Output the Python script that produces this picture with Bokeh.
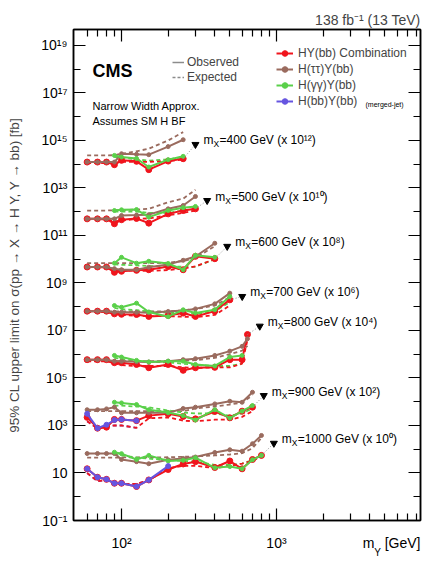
from bokeh.plotting import figure
from bokeh.models import (Range1d, FixedTicker, LogAxis, Label, Legend, LegendItem,
                          ColumnDataSource)
from bokeh.core.properties import value
from bokeh.embed import file_html
from bokeh.resources import INLINE
import math

FONT = "Liberation Sans"
RED = "#f0141c"
BROWN = "#9a6b5e"
GREEN = "#5ad04a"
BLUE = "#6655e0"
GRAY = "#8c8c8c"

# ---------------- data (limits in fb, before the display scaling) ----------------
mx_masses = [400, 500, 600, 700, 800, 900, 1000]
scale_exponents = [12, 10, 8, 6, 4, 2, 0]

my_400 = [60, 70, 80, 90, 100, 125, 150, 200, 250]
comb_obs_400 = [123, 123, 123, 95, 145, 132, 59, 135, 170]
comb_exp_400 = [112, 112, 112, 112, 126, 126, 126, 132, 158]
tt_obs_400 = [123, 123, 123, 123, 275, 260, 251, 550, 1070]
tt_exp_400 = [234, 234, 234, 240, 275, 350, 447, 1000, 2240]
gg_my_400 = [90, 100, 125, 150, 200, 250]
gg_obs_400 = [234, 200, 174, 76, 155, 214]
gg_exp_400 = [200, 190, 158, 141, 158, 200]

my_500 = [60, 70, 80, 90, 100, 125, 150, 200, 250, 300]
comb_obs_500 = [50, 50, 50, 31, 46, 52, 33, 81, 112, 132]
comb_exp_500 = [48, 48, 48, 40, 42, 50, 52, 71, 89, 112]
tt_obs_500 = [50, 50, 50, 50, 69, 72, 75, 132, 182, 437]
tt_exp_500 = [112, 112, 112, 115, 118, 122, 132, 251, 355, 832]
gg_my_500 = [90, 100, 125, 150, 200, 250, 300]
gg_obs_500 = [112, 120, 123, 59, 112, 148, 166]
gg_exp_500 = [100, 100, 100, 89, 89, 112, 126]

my_600 = [60, 70, 80, 90, 100, 125, 150, 200, 250, 300, 400]
comb_obs_600 = [47, 47, 47, 28, 31, 34, 36, 49, 36, 132, 105]
comb_exp_600 = [45, 45, 45, 35, 33, 33, 32, 35, 40, 50, 100]
tt_obs_600 = [47, 47, 47, 40, 36, 36, 46, 60, 90, 130, 470]
tt_exp_600 = [68, 68, 68, 68, 68, 68, 68, 71, 83, 112, 355]
gg_my_600 = [90, 100, 125, 150, 200, 250, 300, 400]
gg_obs_600 = [68, 120, 68, 82, 66, 36, 148, 120]
gg_exp_600 = [60, 58, 55, 52, 50, 48, 48, 100]

my_700 = [60, 70, 80, 90, 100, 125, 150, 200, 250, 300, 400, 500]
comb_obs_700 = [65, 65, 65, 50, 48, 47, 39, 43, 54, 39, 65, 195]
comb_exp_700 = [60, 60, 60, 48, 45, 42, 40, 40, 38, 36, 45, 112]
tt_obs_700 = [65, 65, 65, 59, 58, 58, 56, 63, 69, 81, 132, 372]
tt_exp_700 = [63, 63, 63, 63, 63, 63, 63, 63, 71, 79, 112, 251]
gg_my_700 = [90, 100, 125, 150, 200, 250, 300, 400, 500]
gg_obs_700 = [112, 95, 141, 60, 38, 74, 54, 75, 269]
gg_exp_700 = [89, 79, 71, 63, 56, 52, 50, 63, 158]

my_800 = [60, 70, 80, 90, 100, 125, 150, 200, 250, 300, 400, 500, 600, 650]
comb_obs_800 = [59, 59, 59, 44, 44, 37, 27, 37, 21, 27, 28, 59, 59, 676]
comb_exp_800 = [50, 50, 50, 42, 35, 32, 32, 32, 28, 26, 28, 28, 40, 400]
tt_obs_800 = [59, 59, 59, 51, 50, 48, 47, 51, 59, 65, 89, 135, 214, 447]
tt_exp_800 = [51, 51, 51, 51, 51, 51, 51, 52, 54, 56, 71, 100, 141, 224]
gg_my_800 = [90, 100, 125, 150, 200, 250, 300, 400, 500, 600]
gg_obs_800 = [89, 76, 55, 47, 51, 51, 37, 32, 76, 89]
gg_exp_800 = [71, 63, 52, 48, 45, 40, 35, 32, 32, 40]

my_900 = [60, 70, 80, 90, 100, 125, 150, 200, 250, 300, 400, 500, 600, 700]
comb_obs_900 = [22, 7.7, 8.5, 18, 18, 16, 26, 31, 24, 19, 39, 21, 40, 59]
comb_exp_900 = [15, 7.5, 9, 10, 10, 8, 20, 22, 16, 15, 17.5, 17.5, 23, 40]
tt_obs_900 = [46, 46, 50, 59, 34, 34, 34, 34, 52, 59, 81, 105, 95, 250]
tt_exp_900 = [40, 40, 40, 40, 40, 40, 40, 40, 40, 52, 63, 76, 93, 182]
gg_my_900 = [90, 100, 125, 150, 200, 250, 300, 400, 500, 600, 700]
gg_obs_900 = [95, 89, 76, 46, 35, 26, 17, 46, 20.5, 40, 69]
gg_exp_900 = [69, 68, 63, 58, 43, 35, 32, 32, 26, 32, 52]
bb_my_900 = [60, 70, 80, 90, 100, 125]
bb_obs_900 = [31, 7.7, 10.7, 17, 18, 16]
bb_exp_900 = [15, 7.5, 9, 10, 10, 8]

my_1000 = [60, 70, 80, 90, 100, 125, 150, 200, 250, 300, 400, 500, 600, 700, 800]
comb_obs_1000 = [15, 6.6, 5.4, 3.7, 3.7, 2.7, 5.1, 14, 24, 30, 17, 32, 15, 37, 55]
comb_exp_1000 = [10, 4.5, 5, 3.5, 3.5, 3.5, 5, 16, 20, 20, 16, 20, 25, 32, 50]
tt_obs_1000 = [66, 66, 66, 66, 37, 30, 24.5, 36, 41, 47, 73, 95, 83, 170, 380]
tt_exp_1000 = [44, 44, 44, 44, 45, 45, 45, 46, 48, 50, 55, 60, 68, 110, 300]
gg_my_1000 = [90, 100, 125, 150, 200, 250, 300, 400, 500, 600, 700, 800]
gg_obs_1000 = [75, 65, 37, 55, 32, 34, 44, 16.5, 18.6, 15, 36, 55]
gg_exp_1000 = [60, 55, 45, 40, 35, 32, 30, 22, 22, 25, 35, 55]
bb_my_1000 = [60, 70, 80, 90, 100, 125, 150, 200]
bb_obs_1000 = [15, 6.6, 5.4, 3.7, 3.7, 2.7, 5.1, 19.5]
bb_exp_1000 = [10, 4.5, 5, 3.5, 3.5, 3.5, 5, 15]

bands = [
    (my_400, comb_obs_400, comb_exp_400, tt_obs_400, tt_exp_400, gg_my_400, gg_obs_400, gg_exp_400, None, None, None),
    (my_500, comb_obs_500, comb_exp_500, tt_obs_500, tt_exp_500, gg_my_500, gg_obs_500, gg_exp_500, None, None, None),
    (my_600, comb_obs_600, comb_exp_600, tt_obs_600, tt_exp_600, gg_my_600, gg_obs_600, gg_exp_600, None, None, None),
    (my_700, comb_obs_700, comb_exp_700, tt_obs_700, tt_exp_700, gg_my_700, gg_obs_700, gg_exp_700, None, None, None),
    (my_800, comb_obs_800, comb_exp_800, tt_obs_800, tt_exp_800, gg_my_800, gg_obs_800, gg_exp_800, None, None, None),
    (my_900, comb_obs_900, comb_exp_900, tt_obs_900, tt_exp_900, gg_my_900, gg_obs_900, gg_exp_900, bb_my_900, bb_obs_900, bb_exp_900),
    (my_1000, comb_obs_1000, comb_exp_1000, tt_obs_1000, tt_exp_1000, gg_my_1000, gg_obs_1000, gg_exp_1000, bb_my_1000, bb_obs_1000, bb_exp_1000),
]

# annotation anchors (arrow tips) for the mX labels: mY position and log10 of displayed value
anno_my = [300, 357, 481, 601, 780, 828, 962]
anno_log = [14.83, 12.47, 10.54, 8.43, 7.18, 4.26, 2.25]

SUP = str.maketrans("0123456789-", "⁰¹²³⁴⁵⁶⁷⁸⁹⁻")

X_LO, X_HI = 49, 8500
FRAME_L, FRAME_W = 73, 347


def px_to_x(px):
    lx = math.log10(X_LO) + (px - FRAME_L) / FRAME_W * (math.log10(X_HI) - math.log10(X_LO))
    return 10 ** lx


# ---------------- figure ----------------
p = figure(width=425, height=568, x_axis_type="log", y_axis_type="log",
           x_range=Range1d(X_LO, X_HI), y_range=Range1d(0.1, 10 ** 19.67),
           output_backend="svg", toolbar_location=None,
           min_border_left=FRAME_L, min_border_right=5, min_border_top=29, min_border_bottom=48,
           background_fill_color="white", border_fill_color="white")
p.grid.visible = False
p.outline_line_color = "black"
p.outline_line_width = 1.5

p.title.text = "138 fb" + "-1".translate(SUP) + " (13 TeV)"
p.title.align = "right"
p.title.text_font = FONT
p.title.text_font_size = "14px"
p.title.text_font_style = "normal"
p.title.standoff = 3

x_ticker = FixedTicker(ticks=[100, 1000],
                       minor_ticks=[60, 70, 80, 90, 200, 300, 400, 500, 600, 700, 800, 900,
                                    2000, 3000, 4000, 5000, 6000, 7000, 8000])
y_major = [10.0 ** k for k in range(-1, 20, 2)]
y_minor = [10.0 ** k for k in range(0, 20, 2)]
y_ticker = FixedTicker(ticks=y_major, minor_ticks=y_minor)


def style_axis(ax, show_labels):
    ax.major_tick_in = 12
    ax.major_tick_out = 0
    ax.minor_tick_in = 7
    ax.minor_tick_out = 0
    ax.major_tick_line_width = 1.2
    ax.minor_tick_line_width = 1.2
    ax.axis_line_width = 1.5
    ax.major_label_text_font = FONT
    ax.major_label_text_color = "black"
    ax.major_label_text_font_size = "14px"
    if not show_labels:
        ax.major_label_text_alpha = 0
        ax.major_label_text_font_size = "2px"
        ax.major_label_standoff = 0


def text_only_axis(ax, size, standoff):
    ax.axis_line_color = None
    ax.major_tick_line_color = None
    ax.minor_tick_line_color = None
    ax.major_tick_in = 0
    ax.major_tick_out = 0
    ax.minor_tick_in = 0
    ax.minor_tick_out = 0
    ax.major_label_text_font = FONT
    ax.major_label_text_font_size = size
    ax.major_label_text_color = "black"
    ax.major_label_standoff = standoff


# bottom: the real axis carries the ticks only
xa = p.xaxis[0]
xa.ticker = x_ticker
style_axis(xa, False)

# one text row below it: tick labels 10^2, 10^3 and the title "m [GeV]"
x_m, x_gev, x_sub = px_to_x(368.0), px_to_x(402.1), px_to_x(377.2)
xrow = LogAxis(ticker=FixedTicker(ticks=[100, 1000, x_m, x_gev], minor_ticks=[]),
               major_label_overrides={100: "10" + "2".translate(SUP),
                                      1000: "10" + "3".translate(SUP),
                                      x_m: "m", x_gev: "[GeV]"})
text_only_axis(xrow, "14px", 14)
p.add_layout(xrow, "below")
# subscript Y of the title
xsub = LogAxis(ticker=FixedTicker(ticks=[x_sub], minor_ticks=[]),
               major_label_overrides={x_sub: "Y"})
text_only_axis(xsub, "10px", -7)
p.add_layout(xsub, "below")

ya = p.yaxis[0]
ya.ticker = y_ticker
style_axis(ya, True)
ya.major_label_standoff = 6
ya.major_label_overrides = {10.0 ** k: ("10" if k == 1 else "10" + str(k).translate(SUP))
                            for k in range(-1, 20, 2)}
ya.axis_label = "95% CL upper limit on σ(pp → X → H Y, Y → bb) [fb]"
ya.axis_label_text_font = FONT
ya.axis_label_text_font_style = "normal"
ya.axis_label_text_font_size = "13.5px"
ya.axis_label_standoff = 16

top = LogAxis(ticker=x_ticker)
style_axis(top, False)
p.add_layout(top, "above")
right = LogAxis(ticker=y_ticker)
style_axis(right, False)
p.add_layout(right, "right")


def draw(xs, vals, exp, color, size, dashed):
    ys = [v * 10.0 ** exp for v in vals]
    src = ColumnDataSource(dict(x=xs, y=ys))
    if dashed:
        r = p.line("x", "y", source=src, line_color=color, line_width=1.8, line_dash="4 3")
        return [r]
    r = p.line("x", "y", source=src, line_color=color, line_width=2)
    s = p.scatter("x", "y", source=src, size=size, fill_color=color, line_color=color)
    return [r, s]


leg_r = {}
# expected first
for (band, exp) in zip(bands, scale_exponents):
    my, co, ce, to, te, gmy, go, ge, bmy, bo, be = band
    draw(my, te, exp, BROWN, 0, True)
    draw(gmy, ge, exp, GREEN, 0, True)
    if bmy is not None:
        draw(bmy, be, exp, BLUE, 0, True)
    draw(my, ce, exp, RED, 0, True)
# observed
for (band, exp) in zip(bands, scale_exponents):
    my, co, ce, to, te, gmy, go, ge, bmy, bo, be = band
    leg_r["red"] = draw(my, co, exp, RED, 6, False)
    leg_r["brown"] = draw(my, to, exp, BROWN, 4, False)
    leg_r["green"] = draw(gmy, go, exp, GREEN, 4, False)
    if bmy is not None:
        leg_r["blue"] = draw(bmy, bo, exp, BLUE, 5, False)

# connectors, arrow heads and labels for each mX
last_x = [b[0][-1] for b in bands]
last_y = [b[1][-1] * 10.0 ** e for b, e in zip(bands, scale_exponents)]
anno_y = [10.0 ** v for v in anno_log]
for lx, ly, ax_, ay_ in zip(last_x, last_y, anno_my, anno_y):
    p.line([lx, ax_], [ly, ay_], line_color=GRAY, line_width=1, line_dash="1 2")
p.scatter(anno_my, anno_y, marker="inverted_triangle", size=7, fill_color="black", line_color="black")

rest = ["=%d GeV (x 10%s)" % (m, str(e).translate(SUP)) for m, e in zip(mx_masses, scale_exponents)]
p.text(anno_my, anno_y, text=["m"] * 7, x_offset=8, y_offset=-4, text_baseline="middle",
       text_font=value(FONT), text_font_size="12px", text_color="black")
p.text(anno_my, anno_y, text=["X"] * 7, x_offset=18, y_offset=0, text_baseline="middle",
       text_font=value(FONT), text_font_size="8.5px", text_color="black")
p.text(anno_my, anno_y, text=rest, x_offset=24, y_offset=-4, text_baseline="middle",
       text_font=value(FONT), text_font_size="12px", text_color="black")

# ---------------- legends ----------------
legend1 = Legend(items=[
    LegendItem(label="HY(bb) Combination", renderers=leg_r["red"]),
    LegendItem(label="H(ττ)Y(bb)", renderers=leg_r["brown"]),
    LegendItem(label="H(γγ)Y(bb)", renderers=leg_r["green"]),
    LegendItem(label="H(bb)Y(bb)", renderers=leg_r["blue"]),
], location=(203, 412), orientation="vertical", background_fill_alpha=0, border_line_alpha=0,
    padding=0, margin=0, spacing=2, glyph_width=17, glyph_height=14, label_height=14,
    label_standoff=5, label_text_font=FONT, label_text_font_size="12px")
p.add_layout(legend1)

obs_dummy = p.line([1, 2], [1e-5, 1e-5], line_color=GRAY, line_width=1.5)
exp_dummy = p.line([1, 2], [1e-5, 1e-5], line_color=GRAY, line_width=1.5, line_dash="3 2")
legend2 = Legend(items=[LegendItem(label="Observed", renderers=[obs_dummy]),
                        LegendItem(label="Expected", renderers=[exp_dummy])],
                 location=(99, 436), orientation="vertical", background_fill_alpha=0,
                 border_line_alpha=0, padding=0, margin=0, spacing=1, glyph_width=12,
                 glyph_height=14, label_height=14, label_standoff=3,
                 label_text_font=FONT, label_text_font_size="12px")
p.add_layout(legend2)


# ---------------- texts inside the frame ----------------
def label(x, y, text, size, align="left", style="normal"):
    p.add_layout(Label(x=x, y=y, x_units="screen", y_units="screen", text=text,
                       text_font=FONT, text_font_size=size, text_align=align,
                       text_font_style=style, text_baseline="alphabetic", text_color="black"))


label(292, 416, "(merged-jet)", "7px")
label(19, 450, "CMS", "18px", style="bold")
label(19, 415, "Narrow Width Approx.", "11px")
label(19, 400, "Assumes SM H BF", "11px")

open("out.html", "w").write(file_html(p, INLINE))
